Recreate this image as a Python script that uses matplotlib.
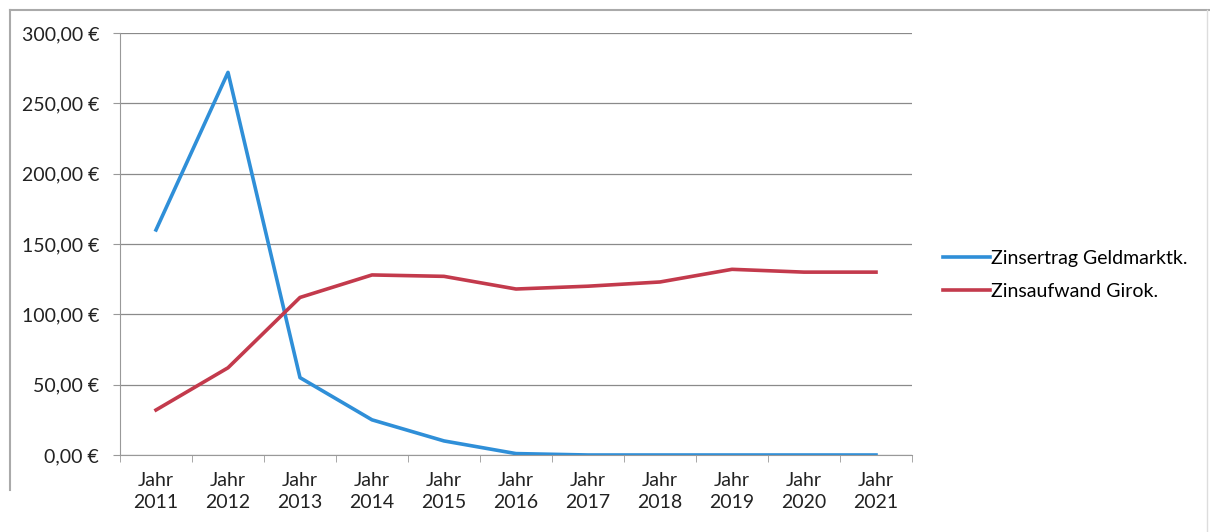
import numpy as np
import matplotlib.pyplot as plt
import matplotlib.ticker as ticker
from matplotlib.lines import Line2D

plt.rcParams['font.family'] = ['Lato', 'DejaVu Sans']

jahre = ["Jahr\n2011", "Jahr\n2012", "Jahr\n2013", "Jahr\n2014", "Jahr\n2015", "Jahr\n2016",
         "Jahr\n2017", "Jahr\n2018", "Jahr\n2019", "Jahr\n2020", "Jahr\n2021"]
zinsertrag = [160, 272, 55, 25, 10, 1, 0, 0, 0, 0, 0]
zinsaufwand = [32, 62, 112, 128, 127, 118, 120, 123, 132, 130, 130]

W, H = 1210, 532
fig = plt.figure(figsize=(W / 100, H / 100), dpi=100)
ax = fig.add_axes([120/W, 77/H, 792/W, 422/H])

x = np.arange(len(jahre))
ax.plot(x, zinsertrag, color='#2f8fd8', lw=2.6, label='Zinsertrag Geldmarktk.')
ax.plot(x, zinsaufwand, color='#c33a4c', lw=2.6, label='Zinsaufwand Girok.')

ax.set_xlim(-0.5, len(jahre) - 0.5)
ax.set_ylim(0, 300)
ax.set_xticks(x)
ax.set_xticklabels(jahre, fontsize=14, color='#222222', linespacing=1.4)
ax.xaxis.set_minor_locator(ticker.FixedLocator(np.arange(-0.5, len(jahre), 1)))
ax.tick_params(axis='x', which='major', length=0, pad=12)
ax.tick_params(axis='x', which='minor', length=5, color='#999999')
ax.yaxis.set_major_locator(ticker.MultipleLocator(50))
ax.yaxis.set_major_formatter(ticker.FuncFormatter(lambda v, p: f"{v:.2f} €".replace('.', ',')))
ax.tick_params(axis='y', length=5, color='#999999', labelsize=14, labelcolor='#222222', pad=10)

ax.grid(axis='y', color='#8a8a8a', lw=0.9)
ax.set_axisbelow(True)
for s in ['top', 'right']:
    ax.spines[s].set_visible(False)
ax.spines['left'].set_color('#999999')
ax.spines['bottom'].set_color('#999999')

fig.legend(loc='center left', bbox_to_anchor=(943/W, 1 - 275/H), frameon=False,
           fontsize=14, handlelength=2.4, handletextpad=0.05, labelspacing=0.8, borderpad=0,
           borderaxespad=0)

# outer chart border (scanned frame)
fig.add_artist(Line2D([10/W, 1], [1 - 10/H, 1 - 10/H], color='#aaaaaa', lw=1.5))
fig.add_artist(Line2D([10/W, 10/W], [1 - 10/H, 1 - 490/H], color='#aaaaaa', lw=1.5))
fig.add_artist(Line2D([1207/W, 1207/W], [1 - 10/H, 0], color='#dddddd', lw=1.0))

fig.savefig("out.png")
